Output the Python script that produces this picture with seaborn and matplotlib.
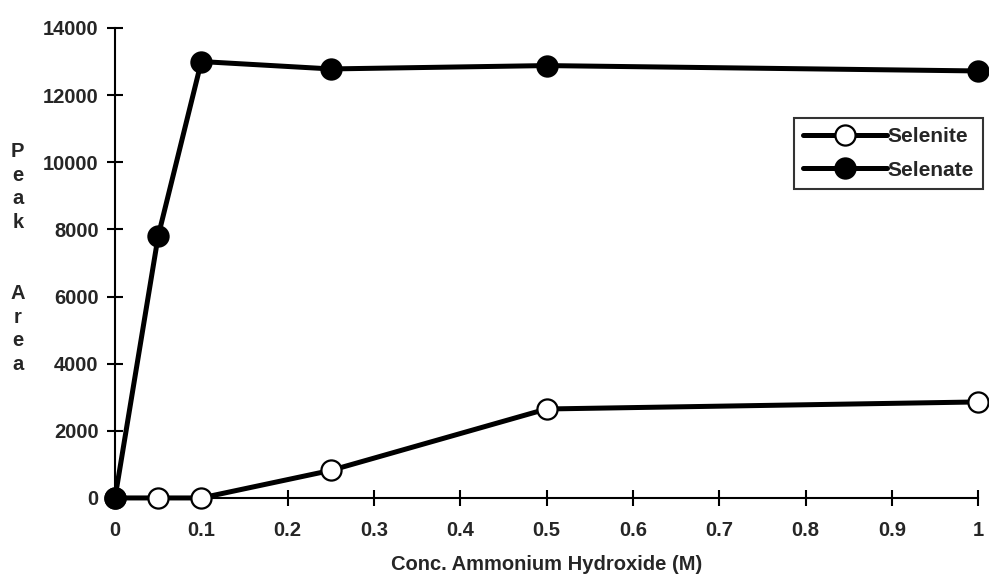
import matplotlib
matplotlib.use("Agg")
import matplotlib.pyplot as plt
import seaborn as sns
import pandas as pd

conc = [0, 0.05, 0.1, 0.25, 0.5, 1]
selenite = [0, 0, 0, 820, 2650, 2860]
selenate = [0, 7800, 13000, 12780, 12880, 12720]
x_ticks = [0, 0.1, 0.2, 0.3, 0.4, 0.5, 0.6, 0.7, 0.8, 0.9, 1]
x_tick_labels = ["0", "0.1", "0.2", "0.3", "0.4", "0.5", "0.6", "0.7", "0.8", "0.9", "1"]
y_ticks = [0, 2000, 4000, 6000, 8000, 10000, 12000, 14000]
y_tick_labels = ["0", "2000", "4000", "6000", "8000", "10000", "12000", "14000"]

sns.set_theme(style="white")
plt.rcParams["font.family"] = ["Liberation Sans", "DejaVu Sans"]
plt.rcParams["font.weight"] = "bold"

fig = plt.figure(figsize=(9.89, 5.77), dpi=100)
ax = fig.add_axes([0.1163, 0.137, 0.8727, 0.8145])

df = pd.DataFrame({"conc": conc, "Selenite": selenite, "Selenate": selenate})

line_kw = dict(color="black", linewidth=3.6, marker="o", markersize=14.5,
               markeredgecolor="black", markeredgewidth=1.6)
sns.lineplot(data=df, x="conc", y="Selenite", ax=ax, label="Selenite",
             markerfacecolor="white", zorder=3, **line_kw)
sns.lineplot(data=df, x="conc", y="Selenate", ax=ax, label="Selenate",
             markerfacecolor="black", zorder=4, **line_kw)

tick_fs = 14.5
ax.set_xlim(0, 1)
ax.set_ylim(0, 14000)
ax.set_xticks(x_ticks)
ax.set_xticklabels(x_tick_labels, fontsize=tick_fs, fontweight="bold")
ax.set_yticks(y_ticks)
ax.set_yticklabels(y_tick_labels, fontsize=tick_fs, fontweight="bold")
ax.tick_params(axis="both", direction="inout", length=11.5, width=1.5,
               color="black", bottom=True, left=True)
ax.tick_params(axis="y", pad=6)
ax.tick_params(axis="x", pad=10.5)

for side in ["top", "right"]:
    ax.spines[side].set_visible(False)
for side in ["left", "bottom"]:
    ax.spines[side].set_color("black")
    ax.spines[side].set_linewidth(1.5)
ax.grid(False)
for ln in ax.lines:
    ln.set_clip_on(False)

ax.set_xlabel("Conc. Ammonium Hydroxide (M)", fontsize=tick_fs, fontweight="bold",
              labelpad=11)
ax.set_ylabel("")
fig.text(0.018, 0.553, "P\ne\na\nk\n\n\nA\nr\ne\na", ha="center", va="center",
         fontsize=tick_fs, fontweight="bold", linespacing=1.31)

leg = ax.legend(loc="upper right", bbox_to_anchor=(1.006, 0.809), frameon=True,
                fancybox=False, edgecolor="black", handlelength=4.0,
                handletextpad=0.05, borderpad=0.45, labelspacing=0.7,
                borderaxespad=0.0, prop={"size": 15, "weight": "bold"})
leg.get_frame().set_linewidth(1.5)
leg.get_frame().set_facecolor("white")

fig.savefig("out.png", dpi=100, facecolor="white")
